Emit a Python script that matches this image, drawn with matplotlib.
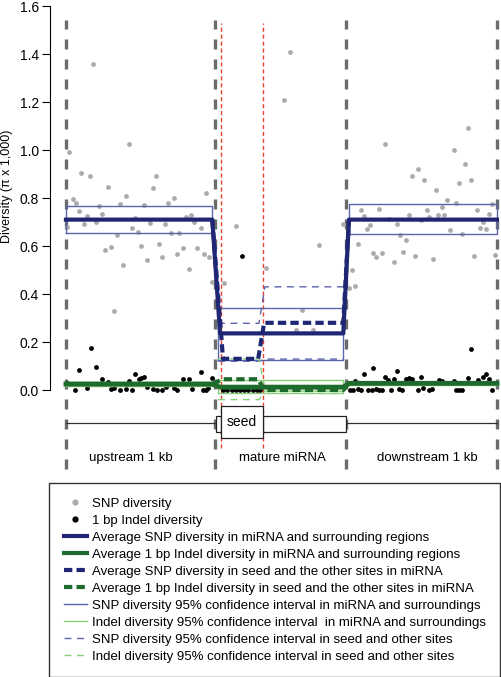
import matplotlib.pyplot as plt
from matplotlib.lines import Line2D
from matplotlib.patches import Rectangle

plt.rcParams['font.family'] = ['Liberation Sans', 'DejaVu Sans']

# x positions: upstream 0-1000 bp, mature miRNA stretched to 1000-1879, downstream 1879-2892
edges = [0, 1000, 1879, 2892]
seed_edges = [1040, 1322]
region_names = ['upstream 1 kb', 'mature miRNA', 'downstream 1 kb']
region_label_x = [436, 1456, 2423]

# SNP diversity points (position, diversity)
snp_upstream = [(22, 0.99), (183, 1.36), (423, 1.025), (103, 0.905), (164, 0.89), (604, 0.89),
                (285, 0.845), (582, 0.84), (404, 0.81), (942, 0.82), (45, 0.795), (65, 0.78),
                (725, 0.80), (683, 0.78), (362, 0.775), (523, 0.77), (223, 0.765), (85, 0.745),
                (244, 0.735), (143, 0.725), (842, 0.73), (803, 0.72), (124, 0.69), (205, 0.70),
                (463, 0.715), (862, 0.70), (562, 0.695), (662, 0.69), (445, 0.675), (904, 0.675),
                (483, 0.66), (8, 0.68), (344, 0.645), (703, 0.655), (760, 0.655), (264, 0.585),
                (304, 0.595), (503, 0.60), (622, 0.61), (783, 0.59), (881, 0.59), (642, 0.555),
                (743, 0.565), (924, 0.565), (962, 0.555), (544, 0.54), (383, 0.52), (823, 0.505),
                (982, 0.45), (325, 0.33)]
snp_mirna = [(1060, 0.445), (1141, 0.685), (1342, 0.51), (1463, 1.21), (1503, 1.41),
             (1700, 0.605), (1582, 0.335), (1544, 0.25), (1661, 0.25), (1861, 0.69)]
snp_downstream = [(2698, 1.09), (2141, 1.025), (2602, 0.998), (2680, 0.942), (2360, 0.922),
                  (2320, 0.891), (2401, 0.877), (2639, 0.863), (2719, 0.875), (2481, 0.832),
                  (2560, 0.793), (2619, 0.78), (1980, 0.75), (2101, 0.754), (2421, 0.75),
                  (2758, 0.75), (2000, 0.726), (2300, 0.73), (2498, 0.73), (2539, 0.728),
                  (2837, 0.733), (2862, 0.775), (2040, 0.688), (2018, 0.672), (2168, 0.711),
                  (2219, 0.692), (2380, 0.708), (2439, 0.719), (2579, 0.668), (2778, 0.676),
                  (2819, 0.672), (2800, 0.701), (2521, 0.763), (2660, 0.649), (1962, 0.608),
                  (2241, 0.645), (2282, 0.625), (2060, 0.572), (2078, 0.555), (2121, 0.572),
                  (2262, 0.576), (2201, 0.532), (2340, 0.557), (2461, 0.546), (2738, 0.558),
                  (2877, 0.561), (1921, 0.50), (1899, 0.426), (1940, 0.433)]

# 1 bp indel diversity points
indel_upstream = [(166, 0.176), (85, 0.083), (205, 0.095), (244, 0.047), (463, 0.065),
                  (424, 0.0375), (487, 0.047), (505, 0.051), (521, 0.055), (903, 0.075),
                  (784, 0.047), (823, 0.044), (982, 0.049), (282, 0.033), (64, 0.0),
                  (144, 0.01), (302, 0.005), (322, 0.008), (364, 0.0), (403, 0.006),
                  (444, 0.0), (546, 0.011), (583, 0.005), (609, 0.002), (644, 0.0),
                  (669, 0.0125), (727, 0.008), (743, 0.0), (844, 0.003), (921, 0.0),
                  (940, 0.001), (955, 0.007), (5, 0.028)]
indel_mirna = [(1181, 0.56), (1056, 0.0), (1083, 0.0), (1112, 0.0), (1141, 0.0), (1168, 0.0),
               (1197, 0.0), (1224, 0.0), (1253, 0.0), (1280, 0.0), (1302, 0.0)]
indel_downstream = [(2719, 0.17), (2001, 0.065), (2062, 0.09), (2220, 0.08), (2141, 0.054),
                    (2161, 0.043), (2201, 0.045), (2282, 0.045), (2300, 0.051), (2320, 0.045),
                    (2380, 0.054), (2500, 0.042), (2523, 0.039), (2602, 0.039), (2700, 0.051),
                    (2767, 0.042), (2800, 0.054), (2819, 0.067), (2837, 0.045), (1941, 0.036),
                    (1906, 0.002), (1928, 0.0), (1962, 0.005), (1978, 0.0), (2029, 0.002),
                    (2051, 0.0), (2080, 0.005), (2102, 0.0), (2123, 0.002), (2179, 0.0),
                    (2235, 0.005), (2255, 0.0), (2364, 0.002), (2398, 0.008), (2438, 0.0),
                    (2454, 0.005), (2617, 0.0), (2639, 0.002), (2658, 0.0), (2857, 0.0)]

# averages in miRNA and surrounding regions
avg_x = [0, 982, 1034, 1861, 1899, 2892]
snp_avg = [0.71, 0.71, 0.236, 0.236, 0.71, 0.71]
indel_avg = [0.025, 0.025, 0.012, 0.012, 0.028, 0.028]
# averages in seed and the other sites
seed_avg_x = [982, 1054, 1290, 1330, 1861, 1899]
snp_seed_avg = [0.71, 0.13, 0.13, 0.28, 0.28, 0.71]
indel_seed_avg = [0.025, 0.045, 0.045, 0.0, 0.0, 0.028]

# 95% confidence intervals (x0, x1) / (low, high)
ci_x = [(0, 980), (1020, 1861), (1899, 2892)]
snp_ci = [(0.654, 0.767), (0.125, 0.343), (0.65, 0.775)]
indel_ci = [(0.018, 0.032), (-0.012, 0.04), (0.02, 0.035)]
seed_ci_x = [1020, 1295, 1335, 1861]
snp_seed_ci_lo = [0.12, 0.12, 0.129, 0.129]
snp_seed_ci_hi = [0.278, 0.278, 0.43, 0.43]
indel_seed_ci_lo = [-0.04, -0.04, -0.005, -0.005]
indel_seed_ci_hi = [0.13, 0.13, 0.005, 0.005]

yticks = [0.0, 0.2, 0.4, 0.6, 0.8, 1.0, 1.2, 1.4, 1.6]

navy = '#1f2674'
ciblue = '#5c64ad'
dkgreen = '#1e6b2e'
ltgreen = '#86cf77'
ptgray = '#ababab'
red = '#e8432e'

fig = plt.figure(figsize=(5.02, 6.77), dpi=100)
ax = fig.add_axes([50/502, 1 - 475/677, 452/502, 469/677])
ax.set_xlim(-107, 2926)
ax.set_ylim(-0.354, 1.6)

# region borders
for e in edges:
    ax.plot([e, e], [-0.33, 1.54], color='#6b6b6b', lw=2.4, dashes=(3, 3), zorder=1)
for s in seed_edges:
    ax.plot([s, s], [-0.24, 1.53], color=red, lw=1.0, dashes=(3, 2), zorder=1)

# points
for pts, c in [(snp_upstream, ptgray), (snp_mirna, ptgray), (snp_downstream, ptgray),
               (indel_upstream, 'black'), (indel_mirna, 'black'), (indel_downstream, 'black')]:
    ax.scatter([p[0] for p in pts], [p[1] for p in pts], s=12, color=c, lw=0, zorder=2)

# confidence intervals
for (x0, x1), (lo, hi) in zip(ci_x, snp_ci):
    ax.plot([x0, x1, x1, x0, x0], [lo, lo, hi, hi, lo], color=ciblue, lw=1, zorder=3)
for (x0, x1), (lo, hi) in zip(ci_x, indel_ci):
    ax.plot([x0, x1, x1, x0, x0], [lo, lo, hi, hi, lo], color=ltgreen, lw=1, zorder=3)
ax.plot(seed_ci_x, snp_seed_ci_lo, color=ciblue, lw=1, dashes=(5, 4), zorder=3)
ax.plot(seed_ci_x, snp_seed_ci_hi, color=ciblue, lw=1, dashes=(5, 4), zorder=3)
ax.plot(seed_ci_x, indel_seed_ci_lo, color=ltgreen, lw=1, dashes=(5, 4), zorder=3)
ax.plot(seed_ci_x, indel_seed_ci_hi, color=ltgreen, lw=1, dashes=(5, 4), zorder=3)

# averages
ax.plot(avg_x, indel_avg, color=dkgreen, lw=3.5, zorder=4)
ax.plot(seed_avg_x, indel_seed_avg, color=dkgreen, lw=3, dashes=(2, 1), zorder=4)
ax.plot(avg_x, snp_avg, color=navy, lw=3, zorder=4)
ax.plot(seed_avg_x, snp_seed_avg, color=navy, lw=3, dashes=(2, 1), zorder=4)

# gene diagram
ax.plot([0, 1007], [-0.1375, -0.1375], color='#333333', lw=0.9)
ax.plot([1879, 2892], [-0.1375, -0.1375], color='#333333', lw=0.9)
ax.add_patch(Rectangle((1007, -0.175), 33, 0.067, fc='white', ec='#222222', lw=0.9, zorder=3))
ax.add_patch(Rectangle((1322, -0.175), 557, 0.067, fc='white', ec='#222222', lw=0.9, zorder=3))
ax.add_patch(Rectangle((1040, -0.2), 282, 0.133, fc='white', ec='#222222', lw=0.9, zorder=3))
ax.text(1181, -0.133, 'seed', ha='center', va='center', fontsize=10, zorder=4)
for name, x in zip(region_names, region_label_x):
    ax.text(x, -0.283, name, ha='center', va='center', fontsize=9.5)

# axes
for side in ['top', 'right', 'bottom']:
    ax.spines[side].set_visible(False)
ax.spines['left'].set_bounds(0, 1.6)
ax.set_xticks([])
ax.set_yticks(yticks)
ax.set_yticklabels(['%.1f' % t for t in yticks], fontsize=10)
ax.tick_params(axis='y', length=6, pad=2)
fig.text(7/502, 1 - 186/677, 'Diversity (\u03c0 x 1,000)', rotation=90,
         ha='center', va='center', fontsize=9)

handles = [
    Line2D([], [], ls='none', marker='o', ms=4.5, mec='none', color=ptgray),
    Line2D([], [], ls='none', marker='o', ms=4.5, mec='none', color='black'),
    Line2D([], [], color=navy, lw=3),
    Line2D([], [], color=dkgreen, lw=3),
    Line2D([], [], color=navy, lw=3, dashes=(2, 1)),
    Line2D([], [], color=dkgreen, lw=3, dashes=(2, 1)),
    Line2D([], [], color=ciblue, lw=1),
    Line2D([], [], color=ltgreen, lw=1),
    Line2D([], [], color=ciblue, lw=1, dashes=(5, 4)),
    Line2D([], [], color=ltgreen, lw=1, dashes=(5, 4)),
]
labels = [
    'SNP diversity',
    '1 bp Indel diversity',
    'Average SNP diversity in miRNA and surrounding regions',
    'Average 1 bp Indel diversity in miRNA and surrounding regions',
    'Average SNP diversity in seed and the other sites in miRNA',
    'Average 1 bp Indel diversity in seed and the other sites in miRNA',
    'SNP diversity 95% confidence interval in miRNA and surroundings',
    'Indel diversity 95% confidence interval  in miRNA and surroundings',
    'SNP diversity 95% confidence interval in seed and other sites',
    'Indel diversity 95% confidence interval in seed and other sites',
]
leg = fig.legend(handles, labels, loc='upper left',
                 bbox_to_anchor=(49/502, 1 - 483/677, 451/502, 0), mode='expand',
                 fontsize=9.5, frameon=True, fancybox=False, edgecolor='black',
                 borderaxespad=0, handlelength=1.8, handletextpad=0.35,
                 labelspacing=0.36, borderpad=1.1)
leg.get_frame().set_linewidth(1)

plt.savefig('out.png', dpi=100)
